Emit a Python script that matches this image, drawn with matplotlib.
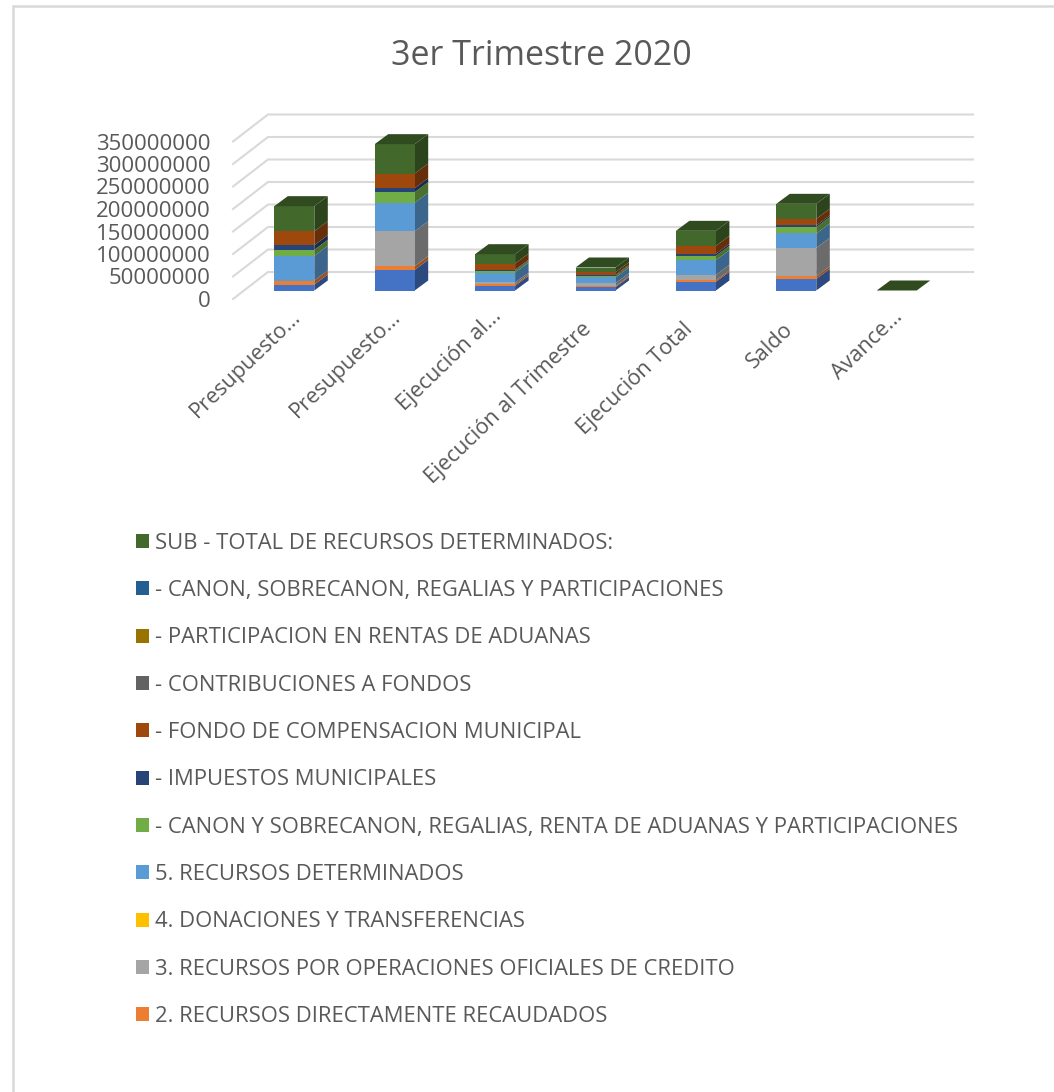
import matplotlib
matplotlib.use("Agg")
import matplotlib.pyplot as plt
from matplotlib.transforms import ScaledTranslation
import numpy as np

# Data
categories = ["Presupuesto...", "Presupuesto...", "Ejecución al...", "Ejecución al Trimestre",
              "Ejecución Total", "Saldo", "Avance..."]
series_names = [
    "1. RECURSOS ORDINARIOS",
    "2. RECURSOS DIRECTAMENTE RECAUDADOS",
    "3. RECURSOS POR OPERACIONES OFICIALES DE CREDITO",
    "4. DONACIONES Y TRANSFERENCIAS",
    "5. RECURSOS DETERMINADOS",
    "- CANON Y SOBRECANON, REGALIAS, RENTA DE ADUANAS Y PARTICIPACIONES",
    "- IMPUESTOS MUNICIPALES",
    "- FONDO DE COMPENSACION MUNICIPAL",
    "- CONTRIBUCIONES A FONDOS",
    "- PARTICIPACION EN RENTAS DE ADUANAS",
    "- CANON, SOBRECANON, REGALIAS Y PARTICIPACIONES",
    "SUB - TOTAL DE RECURSOS DETERMINADOS:",
]
ordinarios = [13.3e6, 45.9e6, 10.4e6, 7.4e6, 19.3e6, 25.9e6, 0]
directos = [8.9e6, 8.1e6, 3.0e6, 2.2e6, 3.0e6, 5.9e6, 0]
credito = [0, 77.8e6, 4.4e6, 6.7e6, 12.6e6, 63.0e6, 0]
donaciones = [0, 0, 0, 0, 0, 0, 0]
determinados = [54.8e6, 63.0e6, 22.2e6, 12.6e6, 32.6e6, 31.9e6, 0]
canon_total = [13.3e6, 23.7e6, 4.4e6, 4.4e6, 9.6e6, 14.1e6, 0]
impuestos = [10.4e6, 8.9e6, 1.5e6, 1.5e6, 4.4e6, 3.7e6, 0]
foncomun = [31.1e6, 32.6e6, 14.1e6, 5.9e6, 17.8e6, 14.8e6, 0]
contribuciones = [0, 0, 0, 0, 0, 0, 0]
aduanas = [0, 0, 0, 0, 0, 0, 0]
canon = [0, 0, 0, 0, 0, 0, 0]
sub_total = [55.6e6, 65.2e6, 20.7e6, 10.4e6, 33.3e6, 33.3e6, 0]
stack = [ordinarios, directos, credito, donaciones, determinados, canon_total,
         impuestos, foncomun, contribuciones, aduanas, canon, sub_total]
colors = ["#4472C4", "#ED7D31", "#A5A5A5", "#FFC000", "#5B9BD5", "#70AD47",
          "#264478", "#9E480E", "#636363", "#997300", "#255E91", "#43682B"]
y_ticks = list(range(0, 350000001, 50000000))

W, H = 1054, 1092
TEXT = "#595959"
plt.rcParams["font.family"] = ["Open Sans", "DejaVu Sans"]

fig = plt.figure(figsize=(W / 100, H / 100), dpi=100)

# chart frame: only the top and left edges fall inside the image
fig.add_artist(plt.Line2D([13 / W, 13 / W, 1], [0, 1 - 5.5 / H, 1 - 5.5 / H], color="#D9D9D9",
                          linewidth=1.8, transform=fig.transFigure, solid_joinstyle="miter"))

# axes: front-left edge of the floor is the origin, pixels per unit fixed by the box
left, right, bottom, top = 233, 973, 299, 141.5
ax = fig.add_axes([left / W, 1 - bottom / H, (right - left) / W, (bottom - top) / H])
x_first, x_step = 294.3, 100.4
ax.set_xlim((left - x_first) / x_step, (right - x_first) / x_step)
ax.set_ylim(0, 350000000)
ax.patch.set_visible(False)
for s in ax.spines.values():
    s.set_visible(False)

px_y = 50000000 / 22.5
px_x = 1 / x_step
# wall depth and bar depth, in data units
wall_dx, wall_dy = 35 * px_x, 27 * px_y
bar_dx, bar_dy = 13.5 * px_x, 10 * px_y
floor = 8.5 * px_y
bar_w = 40 * px_x

x0 = ax.get_xlim()[0]
x1 = ax.get_xlim()[1]
for v in y_ticks:
    ax.plot([x0, x0 + wall_dx, x1], [v, v + wall_dy, v + wall_dy], color="#D9D9D9",
            lw=1.5, clip_on=False, zorder=1, solid_joinstyle="miter")


def darker(c, f):
    r = matplotlib.colors.to_rgb(c)
    return tuple(a * f for a in r)


x = np.arange(len(categories))
base = np.full(len(categories), floor)
handles = []
for vals, color, name in zip(stack, colors, series_names):
    vals = np.array(vals, dtype=float)
    bars = ax.bar(x, vals, bar_w, bottom=base, color=color, label=name, zorder=3, linewidth=0)
    handles.append(bars)
    # side face of each block
    for xi, b, v in zip(x, base, vals):
        if v > 0:
            xr = xi + bar_w / 2
            ax.fill([xr, xr + bar_dx, xr + bar_dx, xr], [b, b + bar_dy, b + v + bar_dy, b + v],
                    color=darker(color, 0.65), lw=0, zorder=2.5, clip_on=False)
    base = base + vals

# top face in the last series colour
for xi, b in zip(x, base):
    xl = xi - bar_w / 2
    xr = xi + bar_w / 2
    ax.fill([xl, xr, xr + bar_dx, xl + bar_dx], [b, b, b + bar_dy, b + bar_dy],
            color=darker(colors[-1], 0.72), lw=0, zorder=3, clip_on=False)

ax.set_yticks(y_ticks)
ax.set_yticklabels([str(v) for v in y_ticks], fontsize=16, color=TEXT)
ax.tick_params(axis="y", length=0, pad=16)
ax.set_xticks(x)
ax.set_xticklabels(categories, rotation=44, ha="right", rotation_mode="anchor", fontsize=15.6, color=TEXT)
ax.tick_params(axis="x", length=0, pad=5)
# full labels sit a little further down the slant than the shortened ones
for lab in ax.get_xticklabels():
    dx, dy = (-3, 0) if lab.get_text().endswith("...") else (-10, -9)
    lab.set_transform(lab.get_transform() + ScaledTranslation(dx / 72, dy / 72, fig.dpi_scale_trans))

fig.text(541 / W, 1 - 56 / H, "3er Trimestre 2020", ha="center", va="center", fontsize=24.5, color=TEXT)

# legend lists the series top-down, without the first one
leg_handles = handles[1:][::-1]
leg_labels = series_names[1:][::-1]
leg = fig.legend(leg_handles, leg_labels, loc="upper left", bbox_to_anchor=(136 / W, 1 - 532.7 / H),
                 frameon=False, fontsize=15.8, labelcolor=TEXT, handlelength=0.615, handleheight=0.615,
                 handletextpad=0.27, labelspacing=1.2, borderpad=0, borderaxespad=0)

fig.savefig("out.png", dpi=100)
